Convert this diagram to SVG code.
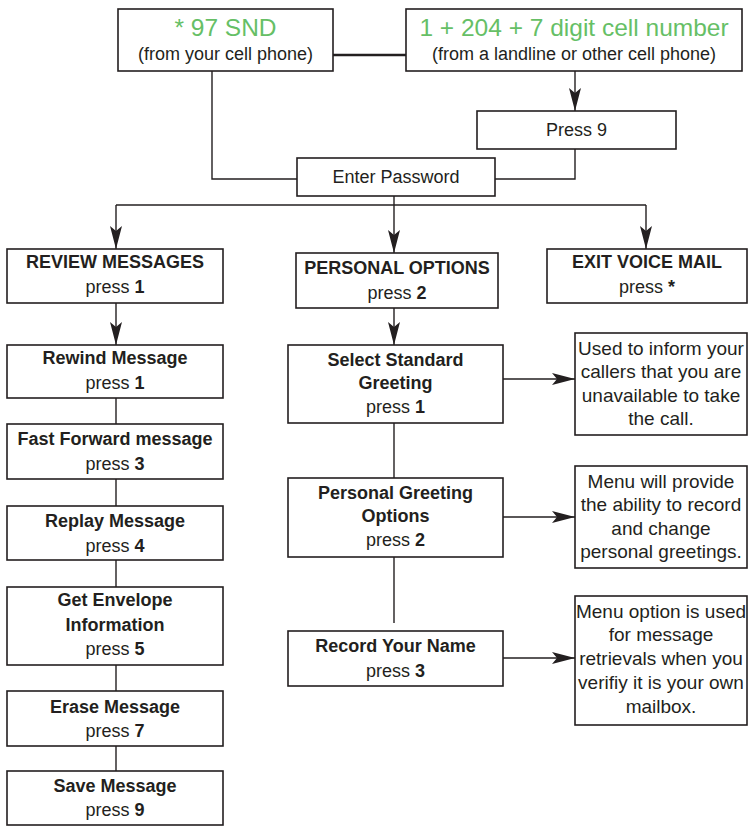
<svg xmlns="http://www.w3.org/2000/svg" width="749" height="826" viewBox="0 0 749 826">
<defs>
<marker id="ah" viewBox="-24 -7 26 14" refX="0" refY="0" markerWidth="26" markerHeight="14" markerUnits="userSpaceOnUse" orient="auto">
<path d="M0,0 L-23,-6 L-18,0 L-23,6 Z" fill="#231f20"/>
</marker>
<style>
.box{fill:#fff;stroke:#231f20;stroke-width:1.6}
.ln{fill:none;stroke:#231f20;stroke-width:1.4}
.arr{fill:none;stroke:#231f20;stroke-width:1.4;marker-end:url(#ah)}
text{font-family:"Liberation Sans",Arial,sans-serif;fill:#231f20;text-anchor:middle}
.b{font-weight:bold;font-size:18px}
.r{font-size:18px}
.g{font-size:24.5px;fill:#66bf66}
.d{font-size:19px}
</style>
</defs>
<rect width="749" height="826" fill="#fff"/>
<g id="connectors">
<line class="ln" x1="333" y1="55" x2="406" y2="55" style="stroke-width:2.6"/>
<line class="arr" x1="575" y1="71" x2="575" y2="111"/>
<polyline class="ln" points="212,71 212,179 297,179"/>
<polyline class="ln" points="575,149 575,179 495,179"/>
<line class="ln" x1="394" y1="196" x2="394" y2="205"/>
<line class="ln" x1="116" y1="205" x2="646" y2="205"/>
<line class="arr" x1="116" y1="205" x2="116" y2="249"/>
<line class="arr" x1="394" y1="205" x2="394" y2="253"/>
<line class="arr" x1="646" y1="205" x2="646" y2="249"/>
<line class="arr" x1="116" y1="303" x2="116" y2="345"/>
<line class="arr" x1="394" y1="308" x2="394" y2="345"/>
<line class="ln" x1="116" y1="398" x2="116" y2="424"/>
<line class="ln" x1="116" y1="479" x2="116" y2="506"/>
<line class="ln" x1="116" y1="560" x2="116" y2="587"/>
<line class="ln" x1="116" y1="665" x2="116" y2="691"/>
<line class="ln" x1="116" y1="746" x2="116" y2="771"/>
<line class="ln" x1="394" y1="423" x2="394" y2="478"/>
<line class="ln" x1="394" y1="557" x2="394" y2="623"/>
<line class="arr" x1="503" y1="379" x2="575" y2="379"/>
<line class="arr" x1="503" y1="517" x2="575" y2="517"/>
<line class="arr" x1="503" y1="658" x2="575" y2="658"/>
</g>
<g id="cell">
<rect class="box" x="118" y="9" width="215" height="62"/>
<text class="g" x="225.5" y="36">* 97 SND</text>
<text class="r" x="225.5" y="60">(from your cell phone)</text>
</g>
<g id="landline">
<rect class="box" x="406" y="9" width="336" height="62"/>
<text class="g" x="574" y="36">1 + 204 + 7 digit cell number</text>
<text class="r" x="574" y="60">(from a landline or other cell phone)</text>
</g>
<g id="press9">
<rect class="box" x="477" y="111" width="199" height="38"/>
<text class="r" x="576.5" y="136">Press 9</text>
</g>
<g id="password">
<rect class="box" x="297" y="158" width="198" height="38"/>
<text class="r" x="396" y="183">Enter Password</text>
</g>
<g id="review">
<rect class="box" x="7" y="249" width="216" height="54"/>
<text class="b" x="115" y="268">REVIEW MESSAGES</text>
<text class="r" x="115" y="293">press <tspan font-weight="bold">1</tspan></text>
</g>
<g id="personal">
<rect class="box" x="296" y="253" width="202" height="55"/>
<text class="b" x="397" y="274">PERSONAL OPTIONS</text>
<text class="r" x="397" y="299">press <tspan font-weight="bold">2</tspan></text>
</g>
<g id="exit">
<rect class="box" x="547" y="249" width="200" height="54"/>
<text class="b" x="647" y="268">EXIT VOICE MAIL</text>
<text class="r" x="647" y="293">press <tspan font-weight="bold">*</tspan></text>
</g>
<g id="rewind">
<rect class="box" x="7" y="345" width="216" height="53"/>
<text class="b" x="115" y="364">Rewind Message</text>
<text class="r" x="115" y="389">press <tspan font-weight="bold">1</tspan></text>
</g>
<g id="fastforward">
<rect class="box" x="7" y="424" width="216" height="55"/>
<text class="b" x="115" y="445">Fast Forward message</text>
<text class="r" x="115" y="470">press <tspan font-weight="bold">3</tspan></text>
</g>
<g id="replay">
<rect class="box" x="7" y="506" width="216" height="54"/>
<text class="b" x="115" y="527">Replay Message</text>
<text class="r" x="115" y="552">press <tspan font-weight="bold">4</tspan></text>
</g>
<g id="envelope">
<rect class="box" x="7" y="587" width="216" height="78"/>
<text class="b" x="115" y="606">Get Envelope</text>
<text class="b" x="115" y="631">Information</text>
<text class="r" x="115" y="655">press <tspan font-weight="bold">5</tspan></text>
</g>
<g id="erase">
<rect class="box" x="7" y="691" width="216" height="55"/>
<text class="b" x="115" y="713">Erase Message</text>
<text class="r" x="115" y="737">press <tspan font-weight="bold">7</tspan></text>
</g>
<g id="save">
<rect class="box" x="7" y="771" width="216" height="54"/>
<text class="b" x="115" y="792">Save Message</text>
<text class="r" x="115" y="816">press <tspan font-weight="bold">9</tspan></text>
</g>
<g id="standard">
<rect class="box" x="288" y="345" width="215" height="78"/>
<text class="b" x="395.5" y="366">Select Standard</text>
<text class="b" x="395.5" y="389">Greeting</text>
<text class="r" x="395.5" y="413">press <tspan font-weight="bold">1</tspan></text>
</g>
<g id="greeting">
<rect class="box" x="288" y="478" width="215" height="79"/>
<text class="b" x="395.5" y="499">Personal Greeting</text>
<text class="b" x="395.5" y="522">Options</text>
<text class="r" x="395.5" y="546">press <tspan font-weight="bold">2</tspan></text>
</g>
<g id="name">
<rect class="box" x="288" y="631" width="215" height="55"/>
<text class="b" x="395.5" y="652">Record Your Name</text>
<text class="r" x="395.5" y="677">press <tspan font-weight="bold">3</tspan></text>
</g>
<g id="desc1">
<rect class="box" x="575" y="333" width="172" height="102"/>
<text class="d" x="661" y="355">Used to inform your</text>
<text class="d" x="661" y="378">callers that you are</text>
<text class="d" x="661" y="402">unavailable to take</text>
<text class="d" x="661" y="425">the call.</text>
</g>
<g id="desc2">
<rect class="box" x="575" y="466" width="172" height="102"/>
<text class="d" x="661" y="488">Menu will provide</text>
<text class="d" x="661" y="511">the ability to record</text>
<text class="d" x="661" y="535">and change</text>
<text class="d" x="661" y="558">personal greetings.</text>
</g>
<g id="desc3">
<rect class="box" x="575" y="596" width="172" height="129"/>
<text class="d" x="661" y="618">Menu option is used</text>
<text class="d" x="661" y="641">for message</text>
<text class="d" x="661" y="665">retrievals when you</text>
<text class="d" x="661" y="689">verifiy it is your own</text>
<text class="d" x="661" y="713">mailbox.</text>
</g>
</svg>
